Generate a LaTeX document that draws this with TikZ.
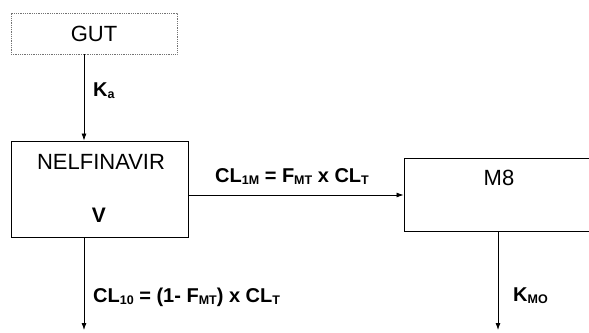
\documentclass[tikz,border=0pt]{standalone}
\usepackage{fontspec}
\setmainfont{Liberation Sans}
\usetikzlibrary{arrows.meta, positioning}
\newcommand{\lowtext}[1]{\raisebox{-2pt}{\fontsize{12.5}{12.5}\selectfont #1}}

\begin{document}
\begin{tikzpicture}[x=1pt, y=-1pt,
        compbox/.style={rectangle, draw=black, line width=0.9pt, inner sep=0pt},
        gutbox/.style={rectangle, draw=black!55, densely dotted, line width=0.8pt, inner sep=0pt},
        boxtext/.style={font=\fontsize{22}{26}\selectfont, inner sep=0pt},
        ratelabel/.style={font=\fontsize{20}{24}\selectfont\bfseries, inner sep=0pt, anchor=west},
        flow/.style={-{Latex[length=7pt, width=5pt]}, line width=0.8pt, color=black}
    ]
        \useasboundingbox (0,0) rectangle (589,332);
        \node[gutbox, minimum width=166pt, minimum height=41pt] (gut) at (94, 33.5) {};
        \node[boxtext] (gutName) at (gut.center) {GUT};
        \node[compbox, minimum width=177pt, minimum height=96pt] (nelf) at (99.5, 189) {};
        \node[boxtext] (nelfName) at (101, 162) {NELFINAVIR};
        \node[boxtext, font=\fontsize{21}{25}\selectfont\bfseries] (nelfVol) at (99, 215) {V};
        \node[compbox, minimum width=188pt, minimum height=73pt] (mEight) at (498, 194.5) {};
        \node[boxtext] (mEightName) at (499, 178) {M8};
        \coordinate (elimNelf) at (84, 330);
        \coordinate (elimMEight) at (498, 330);
        
        \draw[flow] (gut.south -| elimNelf) -- (nelf.north -| elimNelf);
        \draw[flow] (nelf.east |- 0,195) -- (mEight.west |- 0,195);
        \draw[flow] (nelf.south -| elimNelf) -- (elimNelf);
        \draw[flow] (mEight.south) -- (elimMEight);
        
        \node[ratelabel] (kaLabel) at (93, 91) {K\lowtext{a}};
        \node[ratelabel] (clMLabel) at (215, 177) {CL\lowtext{1M} = F\lowtext{MT} x CL\lowtext{T}};
        \node[ratelabel] (clOLabel) at (93, 297) {CL\lowtext{10} = (1- F\lowtext{MT}) x CL\lowtext{T}};
        \node[ratelabel] (kmoLabel) at (513, 296) {K\lowtext{MO}};
    \end{tikzpicture}
\end{document}
